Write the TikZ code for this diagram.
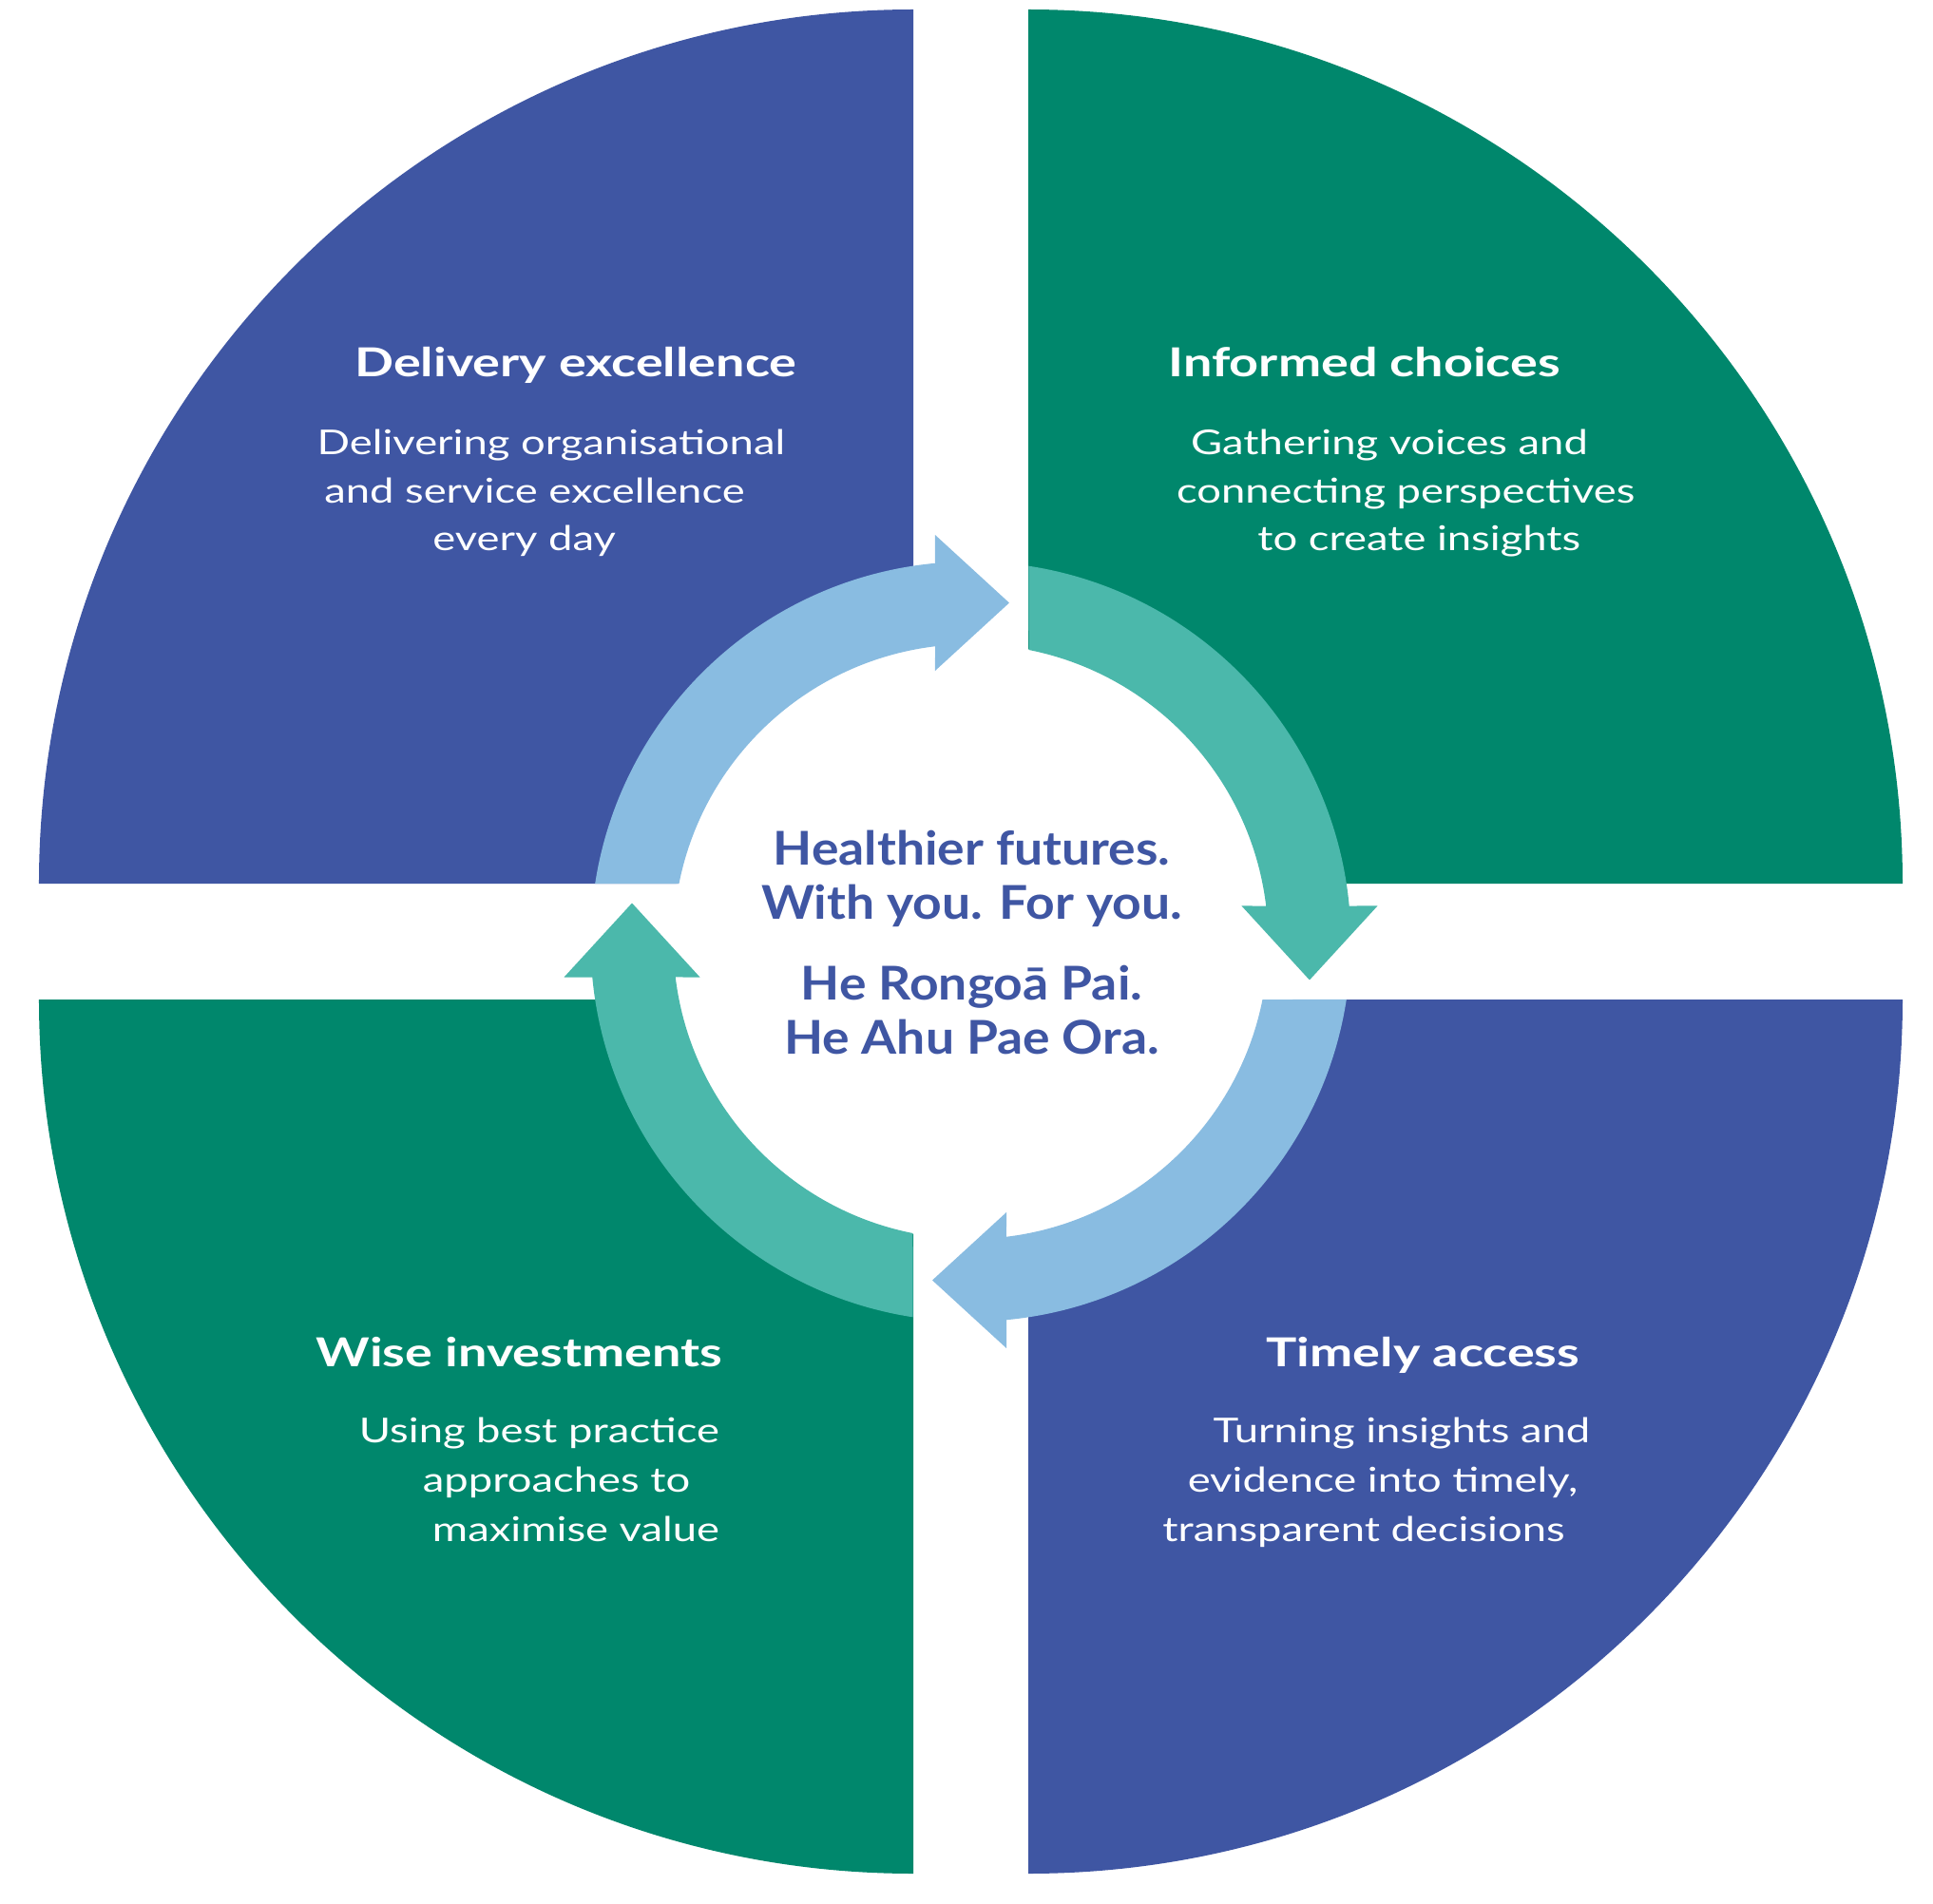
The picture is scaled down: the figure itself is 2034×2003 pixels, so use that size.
\documentclass[tikz,border=0pt]{standalone}
\usepackage{graphicx}
\usepackage{fontspec}
\setmainfont{Lato}
\definecolor{dblue}{HTML}{3F56A3}
\definecolor{dgreen}{HTML}{00876C}
\definecolor{lblue}{HTML}{89BCE1}
\definecolor{lteal}{HTML}{4BB8AB}
\newcommand{\hd}[1]{\scalebox{1.285}[1]{#1}}
\newcommand{\bd}[1]{\scalebox{1.26}[1]{#1}}
\newcommand{\cn}[1]{\scalebox{1.09}[1]{#1}}
\begin{document}
\begin{tikzpicture}[x=1pt,y=1pt,
  head/.style={font=\bfseries\fontsize{42}{50}\selectfont, text=white, anchor=base, inner sep=0pt},
  body/.style={font=\fontsize{36}{43}\selectfont, text=white, anchor=base, inner sep=0pt},
  ctext/.style={font=\bfseries\fontsize{49}{58}\selectfont, text=dblue, anchor=base, inner sep=0pt}]
\useasboundingbox (-1021.5,-1012) rectangle (1012.5,991);
\fill[white] (-1021.5,-1012) rectangle (1012.5,991);
% quadrants
\fill[dblue]  (-60.5,61) -- ++(-920,0) arc[start angle=180,end angle=90,radius=920] -- cycle;
\fill[dgreen] (60.5,61) -- ++(920,0) arc[start angle=0,end angle=90,radius=920] -- cycle;
\fill[dgreen] (-60.5,-61) -- ++(-920,0) arc[start angle=180,end angle=270,radius=920] -- cycle;
\fill[dblue]  (60.5,-61) -- ++(920,0) arc[start angle=0,end angle=-90,radius=920] -- cycle;
% inner white disk
\fill[white] (0,0) circle[radius=313.5];
% arrows
\foreach \k/\col in {0/lblue,1/lteal,2/lblue,3/lteal}{
  \fill[\col] ({171.23-90*\k}:400) arc[start angle={171.23-90*\k}, end angle={95.38-90*\k}, radius=400]
    -- ({95.01-90*\k}:429.64) -- ({83.52-90*\k}:358.79) -- ({97.50-90*\k}:287.46)
    -- ({96.88-90*\k}:313) arc[start angle={96.88-90*\k}, end angle={168.76-90*\k}, radius=313] -- cycle;
}
% centre text
\node[ctext] (c1) at (1,81) {\cn{Healthier futures.}};
\node[ctext] (c2) at (1,24) {\cn{With you. For you.}};
\node[ctext] (c3) at (1,-61) {\cn{He Rongoā Pai.}};
\node[ctext] (c4) at (1,-118) {\cn{He Ahu Pae Ora.}};
% top left
\node[head] (tlh) at (-415.7,594.3) {\hd{Delivery excellence}};
\node[body] (tl1) at (-441.5,512.7) {\bd{Delivering organisational}};
\node[body] (tl2) at (-459,461) {\bd{and service excellence}};
\node[body] (tl3) at (-469.8,411) {\bd{every day}};
% top right
\node[head] (trh) at (414.3,594.3) {\hd{Informed choices}};
\node[body] (tr1) at (440.5,512.7) {\bd{Gathering voices and}};
\node[body] (tr2) at (457.7,461) {\bd{connecting perspectives}};
\node[body] (tr3) at (471.8,411) {\bd{to create insights}};
% bottom left
\node[head] (blh) at (-475,-447) {\hd{Wise investments}};
\node[body] (bl1) at (-454,-527) {\bd{Using best practice}};
\node[body] (bl2) at (-436,-579) {\bd{approaches to}};
\node[body] (bl3) at (-415.5,-631) {\bd{maximise value}};
% bottom right
\node[head] (brh) at (476,-447) {\hd{Timely access}};
\node[body] (br1) at (453.5,-527) {\bd{Turning insights and}};
\node[body] (br2) at (433.5,-579) {\bd{evidence into timely,}};
\node[body] (br3) at (413.5,-631) {\bd{transparent decisions}};
\end{tikzpicture}
\end{document}
